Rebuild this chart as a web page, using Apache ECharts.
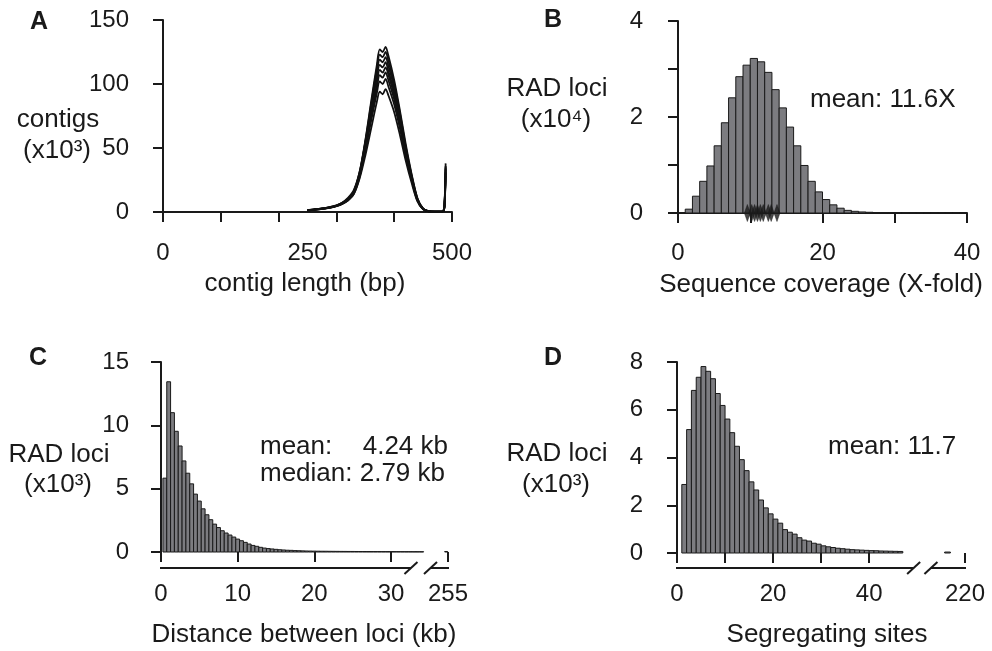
<!DOCTYPE html>
<html><head><meta charset="utf-8">
<script src="https://cdn.jsdelivr.net/npm/echarts@6/dist/echarts.min.js"></script>
<style>html,body{margin:0;padding:0;background:#fff}#c{width:992px;height:651px}</style>
</head><body><div id="c"></div>
<script>
const FONT = '"Liberation Sans", Arial, Helvetica, sans-serif';
const INK = '#1a1a1a';
const BARFILL = '#7c7c80';

// ---------- Panel A: contig length distributions (x10^3) ----------
const contigLengths = [250,260,270,280,290,300,310,320,330,340,350,360,370,375,380,385,390,400,410,420,430,440,450,460,470,480,485,487,489];
const contigsLib1 = [1.4,1.8,2.3,2.9,3.7,4.9,6.8,10,16,31,56,86,115,127,125,129,122,103,79,53,30,11,2.7,0.6,0.2,0.2,0.9,6,38];
const contigsLib2 = [1.5,1.9,2.4,3.0,3.8,5.0,7.0,10,16,30,55,84,112,123,121,125,118,100,77,51,29,11,2.6,0.6,0.2,0.2,0.8,5,36];
const contigsLib3 = [1.3,1.7,2.2,2.8,3.6,4.7,6.5,9.5,15,29,53,81,108,119,117,121,114,97,74,49,28,10,2.5,0.5,0.2,0.2,0.8,5,35];
const contigsLib4 = [1.5,2.0,2.5,3.1,4.0,5.2,7.3,11,17,31,54,80,105,115,113,117,110,94,72,48,27,10,2.4,0.5,0.2,0.2,0.7,5,34];
const contigsLib5 = [1.2,1.6,2.1,2.7,3.5,4.5,6.3,9,14,27,49,75,100,111,109,113,107,91,70,47,27,10,2.4,0.5,0.2,0.2,0.7,5,33];
const contigsLib6 = [1.4,1.9,2.4,3.0,3.9,5.1,7.2,10.5,16,29,50,74,97,107,105,109,103,88,68,45,26,9.5,2.3,0.5,0.2,0.2,0.7,4,31];
const contigsLib7 = [1.3,1.7,2.2,2.8,3.6,4.8,6.7,10,15,28,48,71,93,102,100,104,98,84,65,43,25,9,2.2,0.5,0.2,0.2,0.6,4,30];
const contigsLib8 = [1.2,1.6,2.1,2.6,3.4,4.5,6.3,9.2,14,26,44,65,86,94,92,96,91,78,60,40,23,8.5,2.1,0.4,0.2,0.2,0.6,4,28];
const contigLibs = [contigsLib1,contigsLib2,contigsLib3,contigsLib4,contigsLib5,contigsLib6,contigsLib7,contigsLib8];
const aXTicks = [0,100,200,300,400,500];
const aXLabels = [0,250,500];
const aYTicks = [0,50,100,150];

// ---------- Panel B: sequence coverage histogram (x10^4) ----------
const coverageBinStart = 0, coverageBinWidth = 1;
const coverageCounts = [0.01,0.08,0.35,0.66,0.98,1.40,1.88,2.40,2.84,3.08,3.22,3.15,2.93,2.57,2.19,1.79,1.40,0.99,0.66,0.44,0.28,0.17,0.10,0.055,0.035,0.022,0.015,0.01,0.008,0.006,0.005,0.004,0.003,0.003,0.002,0.002,0.002,0.001,0.001,0.001];
const sampleMeanCoverage = [9.6,10.2,10.6,11.0,11.4,11.8,12.5,12.9,13.7];
const bXTicks = [0,10,20,30,40];
const bXLabels = [0,20,40];
const bYTicks = [0,1,2,3,4];
const bYLabels = [0,2,4];

// ---------- Panel C: distance between loci (x10^3) ----------
const distBinStart = 0.25, distBinWidth = 0.5;
const distCounts = [5.83,13.44,11.0,9.53,8.37,7.19,6.22,5.38,4.57,4.02,3.41,2.94,2.55,2.2,1.93,1.68,1.5,1.34,1.18,1.02,0.89,0.76,0.63,0.52,0.45,0.37,0.31,0.27,0.24,0.21,0.18,0.16,0.14,0.13,0.11,0.1,0.09,0.08,0.075,0.07,0.065,0.06,0.058,0.055,0.052,0.05,0.048,0.046,0.044,0.042,0.04,0.039,0.038,0.036,0.035,0.034,0.033,0.032,0.031,0.03,0.03,0.029,0.028,0.027,0.026,0.025,0.025,0.024];
const distOverflowBin = [37.0, 37.38, 0.04];
const cXTicks = [0,10,20,30];
const cBreakTickPos = 37.43, cBreakLabel = '255';
const cBreak = [32.6, 35.15];
const cYTicks = [0,5,10,15];

// ---------- Panel D: segregating sites (x10^3) ----------
const segBinStart = 1, segBinWidth = 1;
const segCounts = [2.87,5.17,6.81,7.36,7.81,7.61,7.30,6.68,6.18,5.61,5.04,4.47,3.91,3.45,2.98,2.64,2.22,1.89,1.64,1.42,1.25,0.98,0.87,0.79,0.64,0.54,0.5,0.41,0.37,0.3,0.26,0.23,0.2,0.18,0.16,0.14,0.13,0.12,0.11,0.1,0.095,0.085,0.08,0.075,0.07,0.065];
const segOverflowBin = [55.7, 56.9, 0.04];
const dXTicks = [0,10,20,30,40];
const dXLabels = [0,20,40];
const dBreakTickPos = 59.94, dBreakLabel = '220';
const dBreak = [49.25, 52.85];
const dYTicks = [0,2,4,6,8];

// ---------- helpers ----------
function bins(start, width, counts) {
  return counts.map((v, i) => [start + i * width, start + (i + 1) * width, v]);
}
function histRender(params, api) {
  const p0 = api.coord([api.value(0), api.value(2)]);
  const p1 = api.coord([api.value(1), 0]);
  return {
    type: 'rect',
    shape: { x: p0[0], y: p0[1], width: p1[0] - p0[0], height: Math.max(p1[1] - p0[1], 0.01) },
    style: { fill: BARFILL, stroke: INK, lineWidth: 1 }
  };
}
const axisLineStyle = { color: INK, width: 2 };
function xAxisCfg(gi, min, max, ticks, labels, fmt, showLine, offset) {
  return {
    type: 'value', gridIndex: gi, min, max, offset,
    axisLine: { show: showLine, lineStyle: axisLineStyle },
    axisTick: { show: true, length: 10, lineStyle: axisLineStyle, customValues: ticks },
    axisLabel: { show: true, margin: 14, fontSize: 24, fontFamily: FONT, color: INK, customValues: labels,
      showMinLabel: true, showMaxLabel: true, formatter: fmt || (v => String(v)) },
    splitLine: { show: false }
  };
}
function yAxisCfg(gi, min, max, ticks, labels, offset) {
  return {
    type: 'value', gridIndex: gi, min, max, offset,
    axisLine: { show: true, lineStyle: axisLineStyle },
    axisTick: { show: true, length: 10, lineStyle: axisLineStyle, customValues: ticks },
    axisLabel: { show: true, margin: 16, fontSize: 24, fontFamily: FONT, color: INK, customValues: labels,
      showMinLabel: true, showMaxLabel: true },
    splitLine: { show: false }
  };
}

const series = [];
contigLibs.forEach((lib) => {
  series.push({
    type: 'line', xAxisIndex: 0, yAxisIndex: 0, symbol: 'none', smooth: 0.3,
    lineStyle: { color: '#111', width: 1.8 },
    data: contigLengths.map((x, i) => [x, lib[i]])
  });
});
series.push({ type: 'custom', xAxisIndex: 1, yAxisIndex: 1, renderItem: histRender,
  encode: { x: [0, 1], y: 2 }, data: bins(coverageBinStart, coverageBinWidth, coverageCounts) });
series.push({ type: 'scatter', xAxisIndex: 1, yAxisIndex: 1, symbol: 'diamond', symbolSize: [6, 17], z: 5,
  itemStyle: { color: INK, borderColor: INK, borderWidth: 0.5 },
  data: sampleMeanCoverage.map(v => [v, 0]) });
series.push({ type: 'custom', xAxisIndex: 2, yAxisIndex: 2, renderItem: histRender,
  encode: { x: [0, 1], y: 2 }, data: bins(distBinStart, distBinWidth, distCounts).concat([distOverflowBin]) });
series.push({ type: 'custom', xAxisIndex: 3, yAxisIndex: 3, renderItem: histRender,
  encode: { x: [0, 1], y: 2 }, data: bins(segBinStart, segBinWidth, segCounts).concat([segOverflowBin]) });

const cFmt = v => Math.abs(v - cBreakTickPos) < 1e-6 ? cBreakLabel : String(v);
const dFmt = v => Math.abs(v - dBreakTickPos) < 1e-6 ? dBreakLabel : String(v);

const option = {
  animation: false,
  backgroundColor: '#fff',
  textStyle: { fontFamily: FONT },
  grid: [
    { left: 163, top: 20, width: 289, height: 192 },
    { left: 678, top: 21, width: 289, height: 192 },
    { left: 161, top: 362, width: 287, height: 190 },
    { left: 677, top: 362, width: 288, height: 191 }
  ],
  xAxis: [
    xAxisCfg(0, 0, 500, aXTicks, aXLabels, null, true, 15),
    xAxisCfg(1, 0, 40, bXTicks, bXLabels, null, true, 14),
    xAxisCfg(2, 0, cBreakTickPos, cXTicks.concat([cBreakTickPos]), cXTicks.concat([cBreakTickPos]), cFmt, false, 16),
    xAxisCfg(3, 0, dBreakTickPos, dXTicks.concat([dBreakTickPos]), dXLabels.concat([dBreakTickPos]), dFmt, false, 15)
  ],
  yAxis: [
    yAxisCfg(0, 0, 150, aYTicks, aYTicks, 18),
    yAxisCfg(1, 0, 4, bYTicks, bYLabels, 19),
    yAxisCfg(2, 0, 15, cYTicks, cYTicks, 16),
    yAxisCfg(3, 0, 8, dYTicks, dYTicks, 18)
  ],
  series
};

const chart = echarts.init(document.getElementById('c'), null, { renderer: 'canvas' });
chart.setOption(option);

function txt(text, x, y, size, align, bold) {
  return { type: 'text', x, y, z: 10, silent: true,
    style: { text, font: (bold ? 'bold ' : '') + size + 'px ' + FONT, fill: INK,
      align: align || 'center', verticalAlign: 'middle', textAlign: align || 'center', textVerticalAlign: 'middle' } };
}
function line(x1, y1, x2, y2) {
  return { type: 'line', z: 10, silent: true, shape: { x1, y1, x2, y2 }, style: { stroke: INK, lineWidth: 2 } };
}
function brokenAxis(idx, offset, brk, endPos) {
  const px = v => chart.convertToPixel({ xAxisIndex: idx }, v);
  const y = chart.convertToPixel({ yAxisIndex: idx }, 0) + offset;
  const x0 = px(0), xe = px(endPos);
  const b1 = px(brk[0]), b2 = px(brk[1]);
  const dx = 6.5, dy = 6;
  return [
    line(x0 - 1, y, b1, y), line(b2, y, xe + 1, y),
    line(b1 - dx, y + dy, b1 + dx, y - dy), line(b2 - dx, y + dy, b2 + dx, y - dy)
  ];
}

const graphics = [
  txt('A', 39, 22, 25, 'center', true),
  txt('B', 553, 20, 25, 'center', true),
  txt('C', 38, 358, 25, 'center', true),
  txt('D', 553, 358, 25, 'center', true),
  txt('contigs', 58, 120, 26),
  txt('(x10\u00B3)', 57, 151, 26),
  txt('contig length (bp)', 305, 284, 26),
  txt('RAD loci', 557, 89, 26),
  txt('(x10\u2074)', 556, 120, 26),
  txt('Sequence coverage (X-fold)', 821, 285, 26),
  txt('mean: 11.6X', 810, 100, 26, 'left'),
  txt('RAD loci', 59, 455, 26),
  txt('(x10\u00B3)', 58, 485, 26),
  txt('Distance between loci (kb)', 304, 635, 26),
  txt('mean:', 260, 447, 26, 'left'),
  txt('4.24 kb', 448, 447, 26, 'right'),
  txt('median: 2.79 kb', 260, 474, 26, 'left'),
  txt('RAD loci', 557, 454, 26),
  txt('(x10\u00B3)', 556, 485, 26),
  txt('Segregating sites', 827, 635, 26),
  txt('mean: 11.7', 828, 447, 26, 'left')
].concat(brokenAxis(2, 16, cBreak, cBreakTickPos), brokenAxis(3, 15, dBreak, dBreakTickPos));

chart.setOption({ graphic: graphics });
</script>
</body></html>
